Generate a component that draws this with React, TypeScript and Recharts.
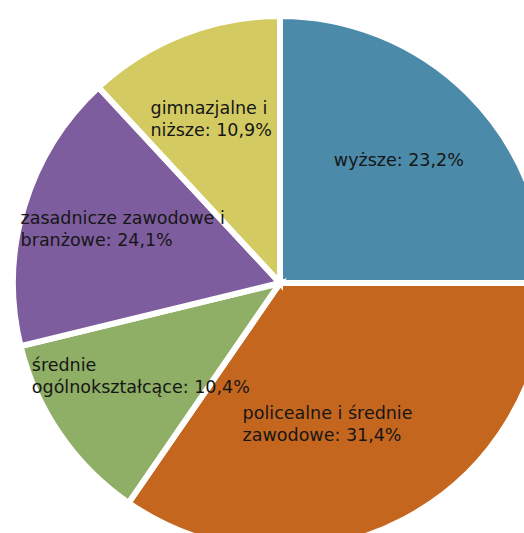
import { PieChart, Pie, Cell } from 'recharts'

// education level shares, clockwise from 12 o'clock
const categories = [
  'wyższe',
  'policealne i średnie\nzawodowe',
  'średnie\nogólnokształcące',
  'zasadnicze zawodowe i\nbranżowe',
  'gimnazjalne i\nniższe',
]
// values printed on the labels
const shares = [23.2, 31.4, 10.4, 24.1, 10.9]
// slice sizes as they are drawn in the picture (% of the circle)
const sliceSizes = [25.0, 34.6, 11.6, 16.9, 11.9]
const colors = ['#4b8aa8', '#c5661f', '#8fae66', '#7e5d9e', '#d3cb62']

// label placement tweaks (clockwise degrees, radius in px)
const labelAngleShift = [1.4, 7.9, -1.5, 1.1, -0.5]
const labelRadius = [171, 155, 166, 160, 171]

const FONT_SIZE = 17.5
const FONT = `${FONT_SIZE}px "DejaVu Sans"`
const LINE_H = 22
const RADIAN = Math.PI / 180

let ctx: CanvasRenderingContext2D | null = null
function textWidth(s: string) {
  if (!ctx) ctx = document.createElement('canvas').getContext('2d')
  if (!ctx) return s.length * 9
  ctx.font = FONT
  return ctx.measureText(s).width
}

const data = categories.map((name, i) => ({
  name,
  value: sliceSizes[i],
  text: `${name}: ${shares[i].toFixed(1).replace('.', ',')}%`,
}))

function renderLabel(props: any) {
  const { cx, cy, midAngle, index } = props
  const angle = midAngle - labelAngleShift[index]
  const r = labelRadius[index]
  const x = cx + r * Math.cos(-angle * RADIAN) - 5
  const y = cy + r * Math.sin(-angle * RADIAN) - 5
  const lines: string[] = data[index].text.split('\n')
  const w = Math.max(...lines.map(textWidth))
  const left = x - w / 2
  const top = y - ((lines.length - 1) * LINE_H) / 2
  return (
    <text
      key={index}
      x={left}
      y={top}
      fill="#161616"
      fontFamily='"DejaVu Sans", sans-serif'
      fontSize={FONT_SIZE}
      textAnchor="start"
      dominantBaseline="central"
    >
      {lines.map((l, i) => (
        <tspan key={i} x={left} y={top + i * LINE_H}>
          {l}
        </tspan>
      ))}
    </text>
  )
}

export default function App() {
  return (
    <div style={{ position: 'absolute', left: 0, top: 0, width: 524, height: 533, background: '#fff' }}>
      <PieChart width={524} height={533}>
        <Pie
          data={data}
          dataKey="value"
          nameKey="name"
          cx={275}
          cy={278}
          outerRadius={267}
          startAngle={90}
          endAngle={-270}
          stroke="#fff"
          strokeWidth={6}
          label={renderLabel}
          labelLine={false}
          isAnimationActive={false}
        >
          {data.map((d, i) => (
            <Cell key={d.name} fill={colors[i]} />
          ))}
        </Pie>
      </PieChart>
    </div>
  )
}
